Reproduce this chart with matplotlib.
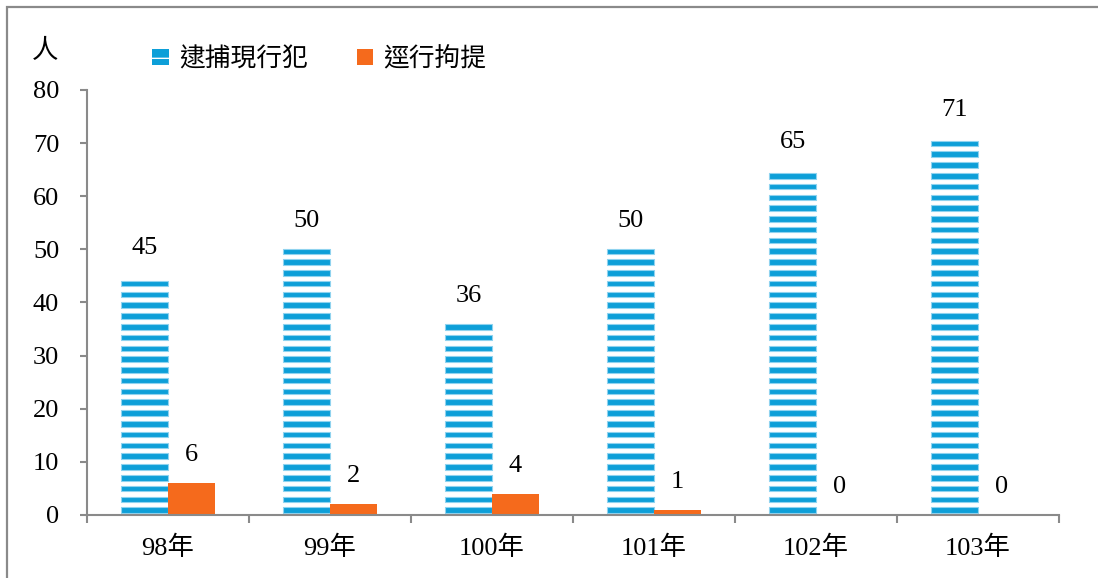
import matplotlib
matplotlib.use('Agg')
import matplotlib.pyplot as plt
import matplotlib.patches as mpatches
import numpy as np

# 資料
years = ['98年', '99年', '100年', '101年', '102年', '103年']
arrest = [45, 50, 36, 50, 65, 71]      # 逮捕現行犯
summons = [6, 2, 4, 1, 0, 0]           # 逕行拘提
yticks = [0, 10, 20, 30, 40, 50, 60, 70, 80]

blue = '#0d9fd8'
blue_edge = '#8fd3ef'
orange = '#f56a1c'
gray = '#8a8a8a'
num_font = ['Liberation Serif', 'Noto Sans CJK TC']
cjk_font = ['Noto Sans CJK TC', 'DejaVu Sans']
fs = 19

fig = plt.figure(figsize=(10.98, 5.78), dpi=100)
ax = fig.add_axes([0.0792, 0.109, 0.8853, 0.7353])

x = np.arange(len(years))
w = 0.29

# 條紋長條 (逮捕現行犯)
for xi, v in zip(x, arrest):
    k = 0.4
    while k < v:
        h = min(1.05, v - k)
        ax.bar(xi - w / 2, h, width=w, bottom=k, color=blue,
               edgecolor=blue_edge, linewidth=0.8)
        k += 2.03

ax.bar(x + w / 2, summons, width=w, color=orange, linewidth=0)

for xi, v in zip(x, arrest):
    ax.annotate(str(v), (xi - w / 2, v), xytext=(0, 28), textcoords='offset pixels',
                ha='center', va='center', fontsize=fs, family=num_font)
for xi, v in zip(x, summons):
    ax.annotate(str(v), (xi + w / 2, v), xytext=(0, 28), textcoords='offset pixels',
                ha='center', va='center', fontsize=fs, family=num_font)

ax.set_xlim(-0.5, len(years) - 0.5)
ax.set_ylim(0, 80)
ax.set_yticks(yticks)
ax.set_yticklabels([str(t) for t in yticks], family=num_font, fontsize=fs)
ax.set_xticks(x)
ax.set_xticklabels(years, family=num_font, fontsize=fs)
ax.set_xticks(np.arange(-0.5, len(years)), minor=True)
ax.tick_params(axis='x', which='major', length=0, pad=15)
ax.tick_params(axis='x', which='minor', length=6, width=1.5, color=gray, direction='out')
ax.tick_params(axis='y', length=5, width=1.5, color=gray, pad=15)

for s in ['top', 'right']:
    ax.spines[s].set_visible(False)
for s in ['left', 'bottom']:
    ax.spines[s].set_color(gray)
    ax.spines[s].set_linewidth(1.5)

fig.text(45 / 1098, 1 - 51 / 578, '人', ha='center', va='center',
         fontsize=fs, family=cjk_font)

h1 = mpatches.Patch(facecolor=blue, edgecolor='white', hatch='-', linewidth=0)
h2 = mpatches.Patch(facecolor=orange, linewidth=0)
leg = ax.legend([h1, h2], ['逮捕現行犯', '逕行拘提'], ncol=2, frameon=False,
                loc='center left', bbox_to_anchor=(152 / 1098, 1 - 59 / 578),
                bbox_transform=fig.transFigure, borderpad=0, borderaxespad=0,
                handlelength=0.65, handleheight=0.6, handletextpad=0.4,
                columnspacing=1.9, prop={'family': cjk_font, 'size': 18.5})

# 外框 (只看得到左邊和上邊)
border = mpatches.Rectangle((7 / 1098, -0.5), 2, 0.5 + 1 - 7 / 578,
                            transform=fig.transFigure, fill=False,
                            edgecolor=gray, linewidth=1.6, clip_on=False)
fig.patches.append(border)

fig.savefig('out.png', dpi=100)
